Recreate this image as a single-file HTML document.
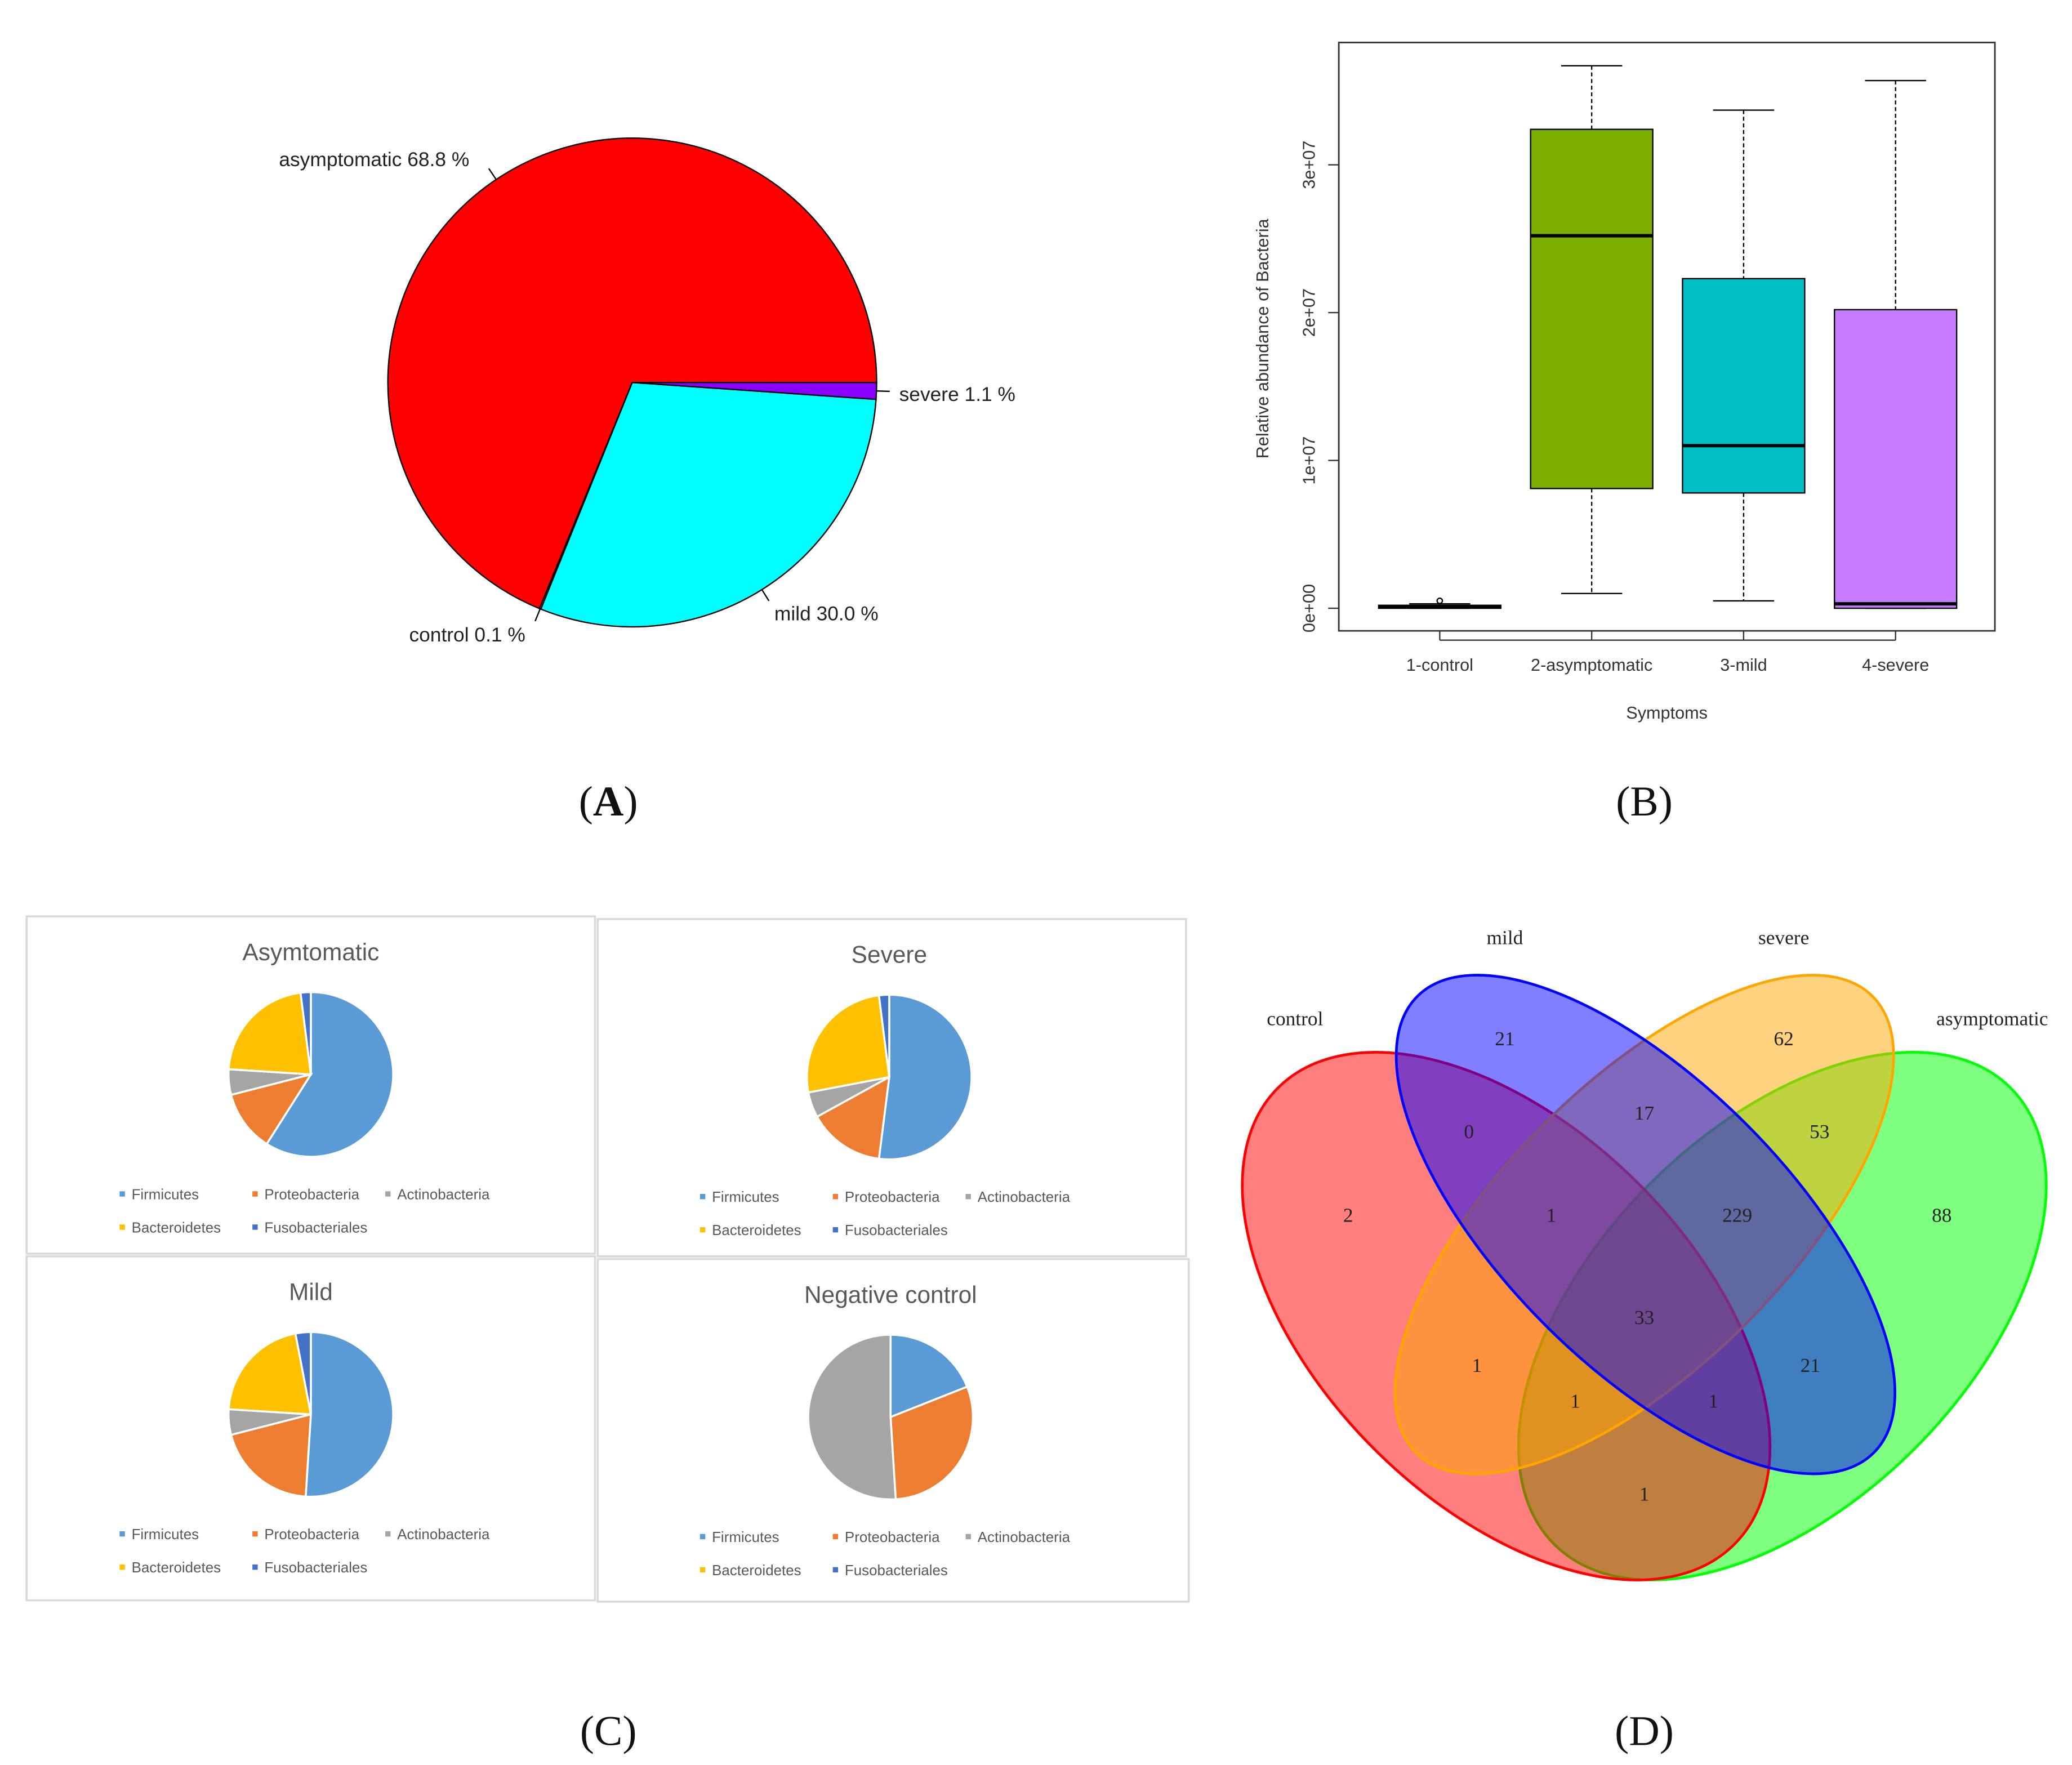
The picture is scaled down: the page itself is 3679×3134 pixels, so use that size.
<!DOCTYPE html>
<html><head><meta charset="utf-8"><style>
html,body{margin:0;padding:0;background:#fff}
svg{display:block}
text{font-family:"Liberation Sans",sans-serif}
.serif{font-family:"Liberation Serif",serif}
</style></head><body>
<svg id="s" width="3679" height="3134" viewBox="0 0 1560 1329" xmlns="http://www.w3.org/2000/svg">
<rect width="1560" height="1329" fill="#fff"/>
<g class="serif" font-size="32" text-anchor="middle" fill="#111">
<text class="serif" x="458" y="614">(<tspan font-weight="bold">A</tspan>)</text>
<text class="serif" x="1238" y="614">(B)</text>
<text class="serif" x="458" y="1314">(C)</text>
<text class="serif" x="1238" y="1314">(D)</text>
</g>
<g id="pa"></g>
<g id="pb"></g>
<g id="pc"></g>
<g id="pd"></g>
</svg>
<script>
const NS="http://www.w3.org/2000/svg";
function mk(p,t,a,txt){const e=document.createElementNS(NS,t);for(const k in a)e.setAttribute(k,a[k]);if(txt!==undefined)e.textContent=txt;p.appendChild(e);return e;}

// Panel A data
const aLabels=["asymptomatic","control","mild","severe"];
const aValues=[68.8,0.1,30.0,1.1];
const aColors=["#ff0000","#ffffff","#00ffff","#8a00ff"];
// Panel B data
const bCats=["1-control","2-asymptomatic","3-mild","4-severe"];
const bMin=[0,0.1,0.05,0];
const bQ1=[0,0.81,0.78,0.0];
const bMed=[0.01,2.52,1.10,0.03];
const bQ3=[0.02,3.24,2.23,2.02];
const bMax=[0.03,3.67,3.37,3.57];
const bColors=["#f8766d","#7cae00","#00bfc4","#c77cff"];
const bTicks=[0,1,2,3];
const bTickLabels=["0e+00","1e+07","2e+07","3e+07"];
// Panel C data
const cTitles=["Asymtomatic","Severe","Mild","Negative control"];
const cPhyla=["Firmicutes","Proteobacteria","Actinobacteria","Bacteroidetes","Fusobacteriales"];
const cAsym=[59,12,5,22,2];
const cSevere=[52,15,5,26,2];
const cMild=[51,20,5,21,3];
const cNeg=[19,30,51,0,0];
const cColors=["#5b9bd5","#ed7d31","#a5a5a5","#ffc000","#4472c4"];
// Panel D data
const dSets=["control","mild","severe","asymptomatic"];
const dCounts=[2,21,62,88,0,17,53,1,229,33,1,21,1,1,1];

// ---- A
(function(){
const g=document.getElementById('pa');const cx=476,cy=288,r=184;
const tot=aValues.reduce((a,b)=>a+b,0);let a0=0;
const lp=[[210,125,"start"],[308,483,"start"],[583,467,"start"],[677,302,"start"]];
aValues.forEach((v,i)=>{const a1=a0+v/tot*2*Math.PI;
 const x0=cx+r*Math.cos(a0),y0=cy-r*Math.sin(a0),x1=cx+r*Math.cos(a1),y1=cy-r*Math.sin(a1);
 const p=mk(g,'path',{d:`M${cx},${cy}L${x0},${y0}A${r},${r} 0 ${a1-a0>Math.PI?1:0} 0 ${x1},${y1}Z`,fill:aColors[i],stroke:"#000","stroke-width":1});
 
 
 const m=(a0+a1)/2;mk(g,'line',{x1:cx+r*Math.cos(m),y1:cy-r*Math.sin(m),x2:cx+(r+10)*Math.cos(m),y2:cy-(r+10)*Math.sin(m),stroke:"#000"});
 const t=mk(g,'text',{x:lp[i][0],y:lp[i][1],"font-size":15,fill:"#222"},aLabels[i]+" "+v.toFixed(1)+" %");
 
 
 a0=a1;});
})();

// ---- B
(function(){
const g=document.getElementById('pb');const y=v=>458-v*111.3;const x=i=>1084+i*114.4;
mk(g,'rect',{x:1008,y:32,width:494,height:443,fill:"none",stroke:"#333","stroke-width":1.2});
bTicks.forEach((t,i)=>{mk(g,'line',{x1:1000,x2:1008,y1:y(t),y2:y(t),stroke:"#333"});
 const tl=mk(g,'text',{x:990,y:y(t),"font-size":13,"text-anchor":"middle",fill:"#333",transform:`rotate(-90 990 ${y(t)})`},bTickLabels[i]);
 
 });
mk(g,'line',{x1:1008,x2:1008,y1:y(0),y2:y(3),stroke:"#333"});
const yt=mk(g,'text',{x:955,y:255,"font-size":13,"text-anchor":"middle",fill:"#333",transform:"rotate(-90 955 255)"},"Relative abundance of Bacteria");


const xt=mk(g,'text',{x:1255,y:541,"font-size":13,"text-anchor":"middle",fill:"#333"},"Symptoms");


bCats.forEach((c,i)=>{const cx=x(i),w=46;
 mk(g,'line',{x1:cx,x2:cx,y1:y(bMax[i]),y2:y(bQ3[i]),stroke:"#000","stroke-dasharray":"3,2"});
 mk(g,'line',{x1:cx,x2:cx,y1:y(bQ1[i]),y2:y(bMin[i]),stroke:"#000","stroke-dasharray":"3,2"});
 mk(g,'line',{x1:cx-23,x2:cx+23,y1:y(bMax[i]),y2:y(bMax[i]),stroke:"#000"});
 mk(g,'line',{x1:cx-23,x2:cx+23,y1:y(bMin[i]),y2:y(bMin[i]),stroke:"#000"});
 const b=mk(g,'rect',{x:cx-w,y:y(bQ3[i]),width:2*w,height:Math.max(1,y(bQ1[i])-y(bQ3[i])),fill:bColors[i],stroke:"#000"});
 
 
 mk(g,'line',{x1:cx-w,x2:cx+w,y1:y(bMed[i]),y2:y(bMed[i]),stroke:"#000","stroke-width":2.5});
 mk(g,'line',{x1:cx,x2:cx,y1:475,y2:482,stroke:"#333"});
 const l=mk(g,'text',{x:cx,y:505,"font-size":13,"text-anchor":"middle",fill:"#333"},c);
 
 });
mk(g,'line',{x1:x(0),x2:x(3),y1:482,y2:482,stroke:"#333"});
mk(g,'circle',{cx:x(0),cy:y(0.05),r:2,fill:"none",stroke:"#000"});
})();

// ---- C
(function(){
const g=document.getElementById('pc');
const boxes=[[20,690,428,254],[450,692,443,254],[20,946,428,259],[450,948,445,258]];
const data=[cAsym,cSevere,cMild,cNeg];
boxes.forEach((bx,k)=>{
 const r0=mk(g,'rect',{x:bx[0],y:bx[1],width:bx[2],height:bx[3],fill:"#fff",stroke:"#d9d9d9","stroke-width":1.5});
 
 
 const cx=bx[0]+bx[2]/2+(k%2?-2:0), cy=bx[1]+119, r=62;
 const t=mk(g,'text',{x:cx,y:bx[1]+33,"font-size":18,"text-anchor":"middle",fill:"#595959"},cTitles[k]);
 
 
 const vals=data[k];const tot=vals.reduce((a,b)=>a+b,0);let a0=0;
 vals.forEach((v,i)=>{if(!v)return;const a1=a0+v/tot*2*Math.PI;
  const x0=cx+r*Math.sin(a0),y0=cy-r*Math.cos(a0),x1=cx+r*Math.sin(a1),y1=cy-r*Math.cos(a1);
  const p=mk(g,'path',{d:`M${cx},${cy}L${x0},${y0}A${r},${r} 0 ${a1-a0>Math.PI?1:0} 1 ${x1},${y1}Z`,fill:cColors[i],stroke:"#fff","stroke-width":1.5});
  
  
  a0=a1;});
 const lx=bx[0]+(k%2?77:70), ly=bx[1]+213;
 const pos=[[0,0],[100,0],[200,0],[0,25],[100,25]];
 cPhyla.forEach((n,i)=>{mk(g,'rect',{x:lx+pos[i][0],y:ly+pos[i][1]-6,width:4,height:4,fill:cColors[i]});
  const lt=mk(g,'text',{x:lx+pos[i][0]+9,y:ly+pos[i][1],"font-size":11,fill:"#595959"},n);
  
  });
});
})();

// ---- D
(function(){
const g=document.getElementById('pd');
const ell=[[1134,991,243,141,45,"#ff0000"],[1239,922,243,107,45,"#0000ff"],[1238,922,243,107,-45,"#ffa500"],[1342,991,243,141,-45,"#00ff00"]];
const order=[3,0,2,1];
order.forEach(i=>{const e=ell[i];const el=mk(g,'ellipse',{cx:e[0],cy:e[1],rx:e[2],ry:e[3],transform:`rotate(${e[4]} ${e[0]} ${e[1]})`,fill:e[5],"fill-opacity":0.5,stroke:e[5],"stroke-width":2});
 
 });
const lab=[[975,767],[1133,706],[1343,706],[1500,767]];
dSets.forEach((s,i)=>{const t=mk(g,'text',{class:"serif",x:lab[i][0],y:lab[i][1]+5,"font-size":15,"text-anchor":"middle",fill:"#222"},s);
 
 });
const pos=[[1015,915],[1133,782],[1343,782],[1462,915],[1106,852],[1238,838],[1370,852],[1168,915],[1308,915],[1238,992],[1112,1028],[1363,1028],[1186,1055],[1290,1055],[1238,1125]];
dCounts.forEach((c,i)=>{const t=mk(g,'text',{class:"serif",x:pos[i][0],y:pos[i][1]+5,"font-size":15,"text-anchor":"middle",fill:"#222"},c);
 
 });
})();
</script>
</body></html>
